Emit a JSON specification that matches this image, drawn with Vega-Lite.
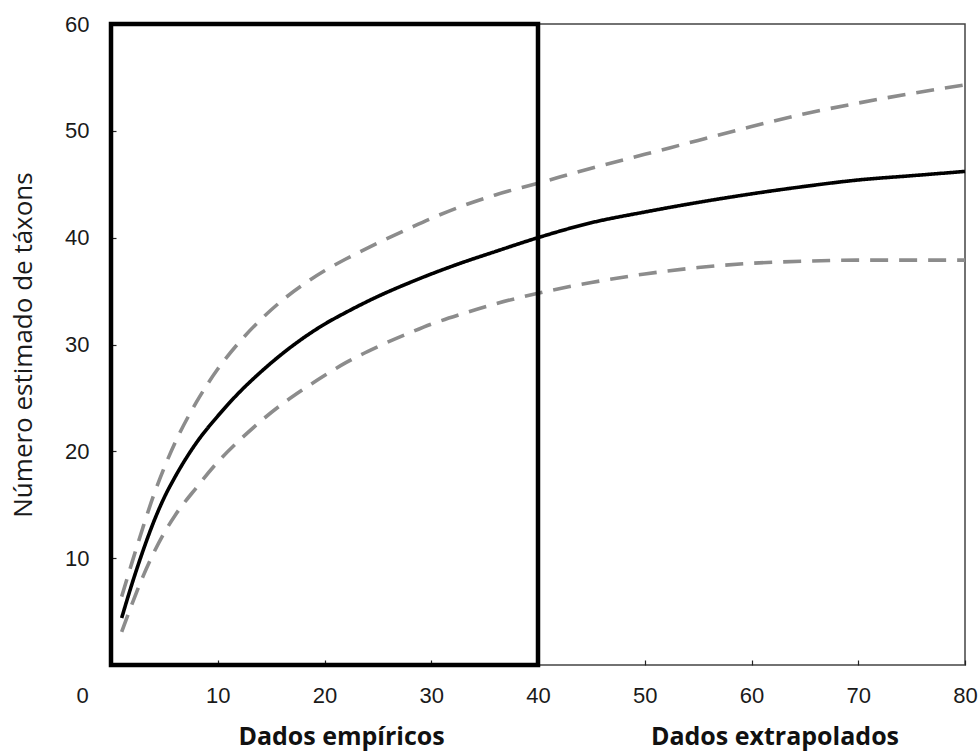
{
  "$schema": "https://vega.github.io/schema/vega-lite/v6.json",
  "width": 854,
  "height": 641,
  "autosize": "none",
  "padding": {"left": 111, "top": 24, "right": 14, "bottom": 89},
  "background": "white",
  "config": {
    "view": {"stroke": "#444444", "strokeWidth": 1.5},
    "axis": {"labelFontSize": 22, "labelFont": "Liberation Sans"}
  },
  "encoding": {
    "x": {
      "field": "x",
      "type": "quantitative",
      "scale": {"domain": [0, 80], "nice": false, "zero": false},
      "axis": {
        "values": [0, 10, 20, 30, 40, 50, 60, 70, 80],
        "title": null,
        "grid": false,
        "domain": false,
        "tickColor": "#222222",
        "tickWidth": 1.2,
        "tickSize": -5,
        "labelFont": "Liberation Sans",
        "labelFontSize": 22,
        "labelColor": "#1a1a1a",
        "labelPadding": 25,
        "labelFlush": false,
        "labelOffset": {"condition": {"test": "datum.value === 0", "value": -29}, "value": 0}
      }
    },
    "y": {
      "field": "y",
      "type": "quantitative",
      "scale": {"domain": [0, 60], "nice": false, "zero": false},
      "axis": {
        "values": [10, 20, 30, 40, 50, 60],
        "title": "Número estimado de táxons",
        "titleFont": "Open Sans",
        "titleFontSize": 26,
        "titleFontWeight": "normal",
        "titleColor": "#1a1a1a",
        "titlePadding": 28,
        "grid": false,
        "domain": false,
        "tickColor": "#222222",
        "tickWidth": 1.2,
        "tickSize": -5,
        "labelFont": "Liberation Sans",
        "labelFontSize": 22,
        "labelColor": "#1a1a1a",
        "labelPadding": 27,
        "labelFlush": false
      }
    }
  },
  "layer": [
    {
      "data": {"values": [
        {"s": "Estimado", "x": 1, "y": 4.4}, {"s": "Estimado", "x": 2, "y": 7.7}, {"s": "Estimado", "x": 3, "y": 10.7},
        {"s": "Estimado", "x": 4, "y": 13.4}, {"s": "Estimado", "x": 5, "y": 15.7}, {"s": "Estimado", "x": 6, "y": 17.6},
        {"s": "Estimado", "x": 8, "y": 20.8}, {"s": "Estimado", "x": 10, "y": 23.3}, {"s": "Estimado", "x": 12, "y": 25.5},
        {"s": "Estimado", "x": 14, "y": 27.4}, {"s": "Estimado", "x": 16, "y": 29.1}, {"s": "Estimado", "x": 18, "y": 30.6},
        {"s": "Estimado", "x": 20, "y": 31.9}, {"s": "Estimado", "x": 22, "y": 33.0}, {"s": "Estimado", "x": 25, "y": 34.5},
        {"s": "Estimado", "x": 28, "y": 35.8}, {"s": "Estimado", "x": 30, "y": 36.6}, {"s": "Estimado", "x": 33, "y": 37.7},
        {"s": "Estimado", "x": 36, "y": 38.7}, {"s": "Estimado", "x": 40, "y": 40.0}, {"s": "Estimado", "x": 45, "y": 41.4},
        {"s": "Estimado", "x": 50, "y": 42.4}, {"s": "Estimado", "x": 55, "y": 43.3}, {"s": "Estimado", "x": 60, "y": 44.1},
        {"s": "Estimado", "x": 65, "y": 44.8}, {"s": "Estimado", "x": 70, "y": 45.4}, {"s": "Estimado", "x": 75, "y": 45.8},
        {"s": "Estimado", "x": 80, "y": 46.2},
        {"s": "Superior", "x": 1, "y": 6.4}, {"s": "Superior", "x": 2, "y": 9.7}, {"s": "Superior", "x": 3, "y": 12.9},
        {"s": "Superior", "x": 4, "y": 15.9}, {"s": "Superior", "x": 5, "y": 18.5}, {"s": "Superior", "x": 6, "y": 20.8},
        {"s": "Superior", "x": 8, "y": 24.6}, {"s": "Superior", "x": 10, "y": 27.7}, {"s": "Superior", "x": 12, "y": 30.2},
        {"s": "Superior", "x": 14, "y": 32.3}, {"s": "Superior", "x": 16, "y": 34.1}, {"s": "Superior", "x": 18, "y": 35.6},
        {"s": "Superior", "x": 20, "y": 36.9}, {"s": "Superior", "x": 22, "y": 38.0}, {"s": "Superior", "x": 25, "y": 39.5},
        {"s": "Superior", "x": 28, "y": 40.9}, {"s": "Superior", "x": 30, "y": 41.8}, {"s": "Superior", "x": 33, "y": 43.0},
        {"s": "Superior", "x": 36, "y": 44.0}, {"s": "Superior", "x": 40, "y": 45.1}, {"s": "Superior", "x": 45, "y": 46.5},
        {"s": "Superior", "x": 50, "y": 47.8}, {"s": "Superior", "x": 55, "y": 49.1}, {"s": "Superior", "x": 60, "y": 50.4},
        {"s": "Superior", "x": 65, "y": 51.6}, {"s": "Superior", "x": 70, "y": 52.6}, {"s": "Superior", "x": 75, "y": 53.5},
        {"s": "Superior", "x": 80, "y": 54.3},
        {"s": "Inferior", "x": 1, "y": 3.1}, {"s": "Inferior", "x": 2, "y": 5.8}, {"s": "Inferior", "x": 3, "y": 8.3},
        {"s": "Inferior", "x": 4, "y": 10.5}, {"s": "Inferior", "x": 5, "y": 12.4}, {"s": "Inferior", "x": 6, "y": 14.0},
        {"s": "Inferior", "x": 8, "y": 16.6}, {"s": "Inferior", "x": 10, "y": 19.0}, {"s": "Inferior", "x": 12, "y": 21.0},
        {"s": "Inferior", "x": 14, "y": 22.8}, {"s": "Inferior", "x": 16, "y": 24.4}, {"s": "Inferior", "x": 18, "y": 25.8},
        {"s": "Inferior", "x": 20, "y": 27.1}, {"s": "Inferior", "x": 22, "y": 28.3}, {"s": "Inferior", "x": 25, "y": 29.8},
        {"s": "Inferior", "x": 28, "y": 31.1}, {"s": "Inferior", "x": 30, "y": 31.9}, {"s": "Inferior", "x": 33, "y": 32.9},
        {"s": "Inferior", "x": 36, "y": 33.8}, {"s": "Inferior", "x": 40, "y": 34.8}, {"s": "Inferior", "x": 45, "y": 35.8},
        {"s": "Inferior", "x": 50, "y": 36.6}, {"s": "Inferior", "x": 55, "y": 37.2}, {"s": "Inferior", "x": 60, "y": 37.6},
        {"s": "Inferior", "x": 65, "y": 37.8}, {"s": "Inferior", "x": 70, "y": 37.9}, {"s": "Inferior", "x": 75, "y": 37.9},
        {"s": "Inferior", "x": 80, "y": 37.9}
      ]},
      "mark": {"type": "line", "strokeWidth": 3.6, "strokeCap": "butt", "interpolate": "monotone"},
      "encoding": {
        "color": {
          "field": "s", "type": "nominal",
          "scale": {"domain": ["Estimado", "Superior", "Inferior"], "range": ["#000000", "#8c8c8c", "#8c8c8c"]},
          "legend": null
        },
        "strokeDash": {
          "field": "s", "type": "nominal",
          "scale": {"domain": ["Estimado", "Superior", "Inferior"], "range": [[1, 0], [18, 11], [18, 11]]},
          "legend": null
        },
        "detail": {"field": "s"}
      }
    },
    {
      "data": {"values": [{"x": 0, "y": 0, "x2": 40, "y2": 60}]},
      "mark": {"type": "rect", "fill": "transparent", "stroke": "#000000", "strokeWidth": 4.5},
      "encoding": {
        "x2": {"field": "x2"},
        "y2": {"field": "y2"}
      }
    },
    {
      "data": {"values": [
        {"x": 21.6, "y": -7.5, "label": "Dados empíricos"},
        {"x": 62.2, "y": -7.5, "label": "Dados extrapolados"}
      ]},
      "mark": {"type": "text", "font": "Open Sans", "fontSize": 25, "fontWeight": "bold", "color": "#111111", "baseline": "alphabetic", "align": "center"},
      "encoding": {
        "text": {"field": "label"}
      }
    }
  ]
}
